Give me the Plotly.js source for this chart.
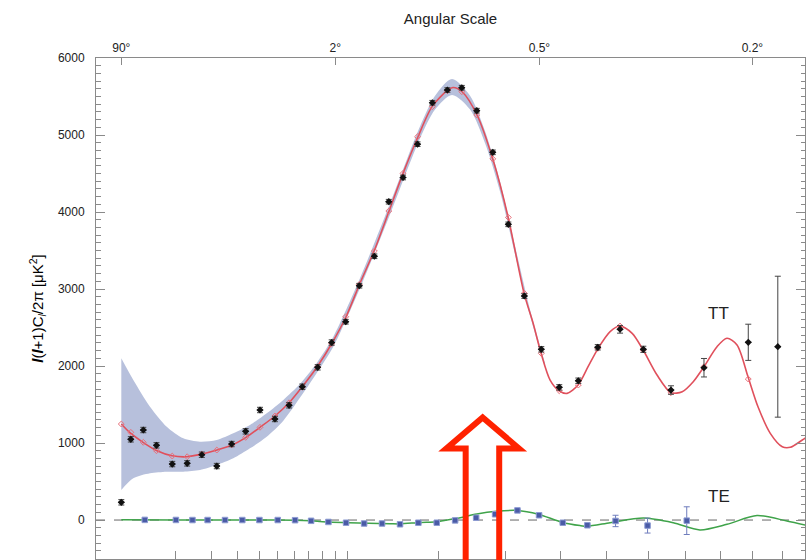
<!DOCTYPE html>
<html>
<head>
<meta charset="utf-8">
<script src="https://cdn.plot.ly/plotly-3.0.1.min.js"></script>
<style>html,body{margin:0;padding:0;background:#fff;}#chart{width:812px;height:560px;}</style>
</head>
<body>
<div id="chart"></div>
<script>
// ---- data (multipole l, values in microK^2) ----
const ttL   = [2, 2.9, 4.4, 6.4, 9.4, 12.9, 17.0, 21.9, 27.5, 33.5, 40.4, 48.4, 56.8, 65.4, 76.3, 87.1, 98.8, 111.0, 125.5, 140.4, 156.1, 173.1, 191.6, 211.5, 231.7, 253.9, 278.9, 304.6, 332.5, 363.6, 398.4, 437.4, 479.4, 530.5, 587.2, 659.0, 751.3, 886.7, 984.5];
const ttVal = [230, 1048, 1169, 970, 727, 736, 848, 701, 987, 1152, 1429, 1312, 1490, 1731, 1983, 2305, 2575, 3043, 3425, 4134, 4448, 4881, 5419, 5584, 5614, 5316, 4775, 3840, 2909, 2217, 1723, 1809, 2243, 2477, 2217, 1688, 1978, 2308, 2251];
const ttErr = [35, 35, 35, 35, 35, 35, 35, 35, 35, 35, 35, 35, 35, 35, 35, 35, 30, 30, 30, 30, 30, 30, 30, 30, 30, 30, 30, 30, 30, 35, 35, 35, 35, 50, 40, 55, 120, 235, 915];

const binL   = [2, 2.9, 4.4, 6.4, 9.4, 12.9, 17.0, 21.9, 27.5, 33.5, 40.4, 48.4, 56.8, 65.4, 76.3, 87.1, 98.8, 111.0, 125.5, 140.4, 156.1, 173.1, 191.6, 211.5, 231.7, 253.9, 278.9, 304.6, 332.5, 363.6, 398.4, 437.4, 479.4, 530.5, 587.2, 659.0, 751.3, 886.7];
const binVal = [1247, 1139, 1009, 900, 831, 822, 857, 909, 974, 1074, 1204, 1351, 1523, 1727, 1990, 2290, 2640, 3060, 3493, 4013, 4502, 4978, 5368, 5575, 5562, 5260, 4690, 3930, 2944, 2165, 1679, 1753, 2229, 2519, 2208, 1653, 1991, 1831];

const ttModelL   = [2, 2.81, 4.36, 6.49, 9.35, 12.86, 17.05, 21.97, 27.65, 33.67, 40.4, 48.4, 56.8, 65.2, 75.8, 87.4, 99.1, 111.7, 125.2, 140.7, 156.1, 173.7, 191.2, 211.1, 219.3, 232.1, 254.3, 279.4, 304.1, 332.0, 348.4, 363.2, 380.4, 398.0, 414.1, 436.9, 458.2, 480.3, 507.4, 530.5, 559.6, 586.8, 622.2, 659.0, 689.7, 720.5, 751.3, 789.8, 820.0, 851.1, 885.8, 918.2, 959.0, 999.8, 1027.7, 1070.4, 1107];
const ttModelVal = [1247, 1134, 1009, 900, 835, 822, 857, 909, 974, 1074, 1204, 1351, 1523, 1727, 1987, 2299, 2640, 3078, 3493, 4013, 4502, 4978, 5368, 5575, 5617, 5562, 5260, 4675, 3939, 2944, 2555, 2165, 1818, 1679, 1645, 1753, 1991, 2229, 2446, 2519, 2424, 2208, 1883, 1653, 1666, 1796, 1991, 2251, 2360, 2273, 1861, 1471, 1126, 952, 944, 1039, 1126];

const bandL     = [2, 3.17, 5.36, 8.27, 11.93, 16.45, 21.86, 28.17, 35.5, 43.9, 53.3, 63.9, 75.6, 88.4, 111.7, 141.7, 176.2, 195.1, 217.9, 243.8, 266.7, 290.7, 316.2, 342.9, 370.7];
const bandUpper = [2100, 1818, 1472, 1212, 1061, 1017, 1039, 1126, 1234, 1386, 1560, 1770, 2040, 2380, 3143, 4110, 5113, 5510, 5727, 5510, 5048, 4395, 3552, 2729, 2036];
const bandLower = [390, 541, 606, 627, 627, 649, 714, 801, 931, 1082, 1290, 1590, 1910, 2250, 3013, 3968, 4957, 5330, 5519, 5330, 4892, 4265, 3448, 2651, 1984];

const teL   = [4.6, 10.2, 14.3, 18.8, 24.9, 32.0, 40.1, 50.0, 60.6, 71.5, 84.5, 99.1, 115.5, 133.3, 152.7, 174.1, 197.3, 222.2, 252.9, 282.7, 320.3, 359.4, 405.4, 456.7, 520.0, 597.9, 702.2];
const teVal = [2, 1, 0, 0, 0, 0, 0, 0, -2, -10, -25, -35, -45, -45, -55, -35, -35, -5, 30, 75, 125, 62, -35, -68, -12, -72, -8];
const teErr = [10, 10, 10, 10, 10, 10, 10, 10, 10, 10, 10, 10, 10, 10, 10, 10, 10, 10, 10, 10, 12, 12, 12, 14, 74, 97, 180];

const teModelL   = [2, 10.2, 24.9, 40.4, 60.6, 71.5, 84.6, 101.3, 119.8, 141.7, 152.7, 176.2, 197.3, 224.5, 253.9, 285.0, 319.3, 358.1, 403.4, 441.0, 456.7, 507.4, 587.2, 665.3, 739.6, 820.0, 915.0, 1016, 1106];
const teModelVal = [3, 2, 0, 0, -3, -10, -25, -35, -42, -48, -50, -32, -22, 22, 78, 113, 125, 76, -28, -72, -80, -35, 26, -35, -128, -56, 58, -13, -87];

const bottomTickL = [10, 20, 30, 40, 50, 60, 70, 80, 90, 100, 200, 300, 400, 500, 600, 700, 800, 900, 1000];
const angleTickL  = [2, 90, 360, 900];
const angleTickText = ['90°', '2°', '0.5°', '0.2°'];
const xRangeL = [0.495, 1080];
const yRange = [-506, 6000];

// ---- x scale: power-law stretch of multipole l ----
const P = 0.403;
const T = l => Math.pow(l, P);
const tx = arr => arr.map(T);

const frame = '#8a8a8a';
const traces = [
  {x: tx(bandL), y: bandLower, mode: 'lines', line: {width: 0, shape: 'spline', smoothing: 0.8}, hoverinfo: 'skip'},
  {x: tx(bandL), y: bandUpper, mode: 'lines', line: {width: 0, shape: 'spline', smoothing: 0.8}, fill: 'tonexty', fillcolor: '#b7c0dc', hoverinfo: 'skip'},
  {x: tx(ttModelL), y: ttModelVal, mode: 'lines', line: {color: '#e0505c', width: 1.6, shape: 'spline', smoothing: 0.8}, name: 'TT model'},
  {x: tx(binL), y: binVal, mode: 'markers', marker: {symbol: 'diamond-open', size: 4.5, color: '#e8707a', line: {width: 1, color: '#e8707a'}}, name: 'TT binned model'},
  {x: tx(teModelL), y: teModelVal, mode: 'lines', line: {color: '#3fa34a', width: 1.5, shape: 'spline', smoothing: 0.8}, name: 'TE model'},
  {x: tx(teL), y: teVal, mode: 'markers', marker: {symbol: 'square', size: 5.5, color: '#4a5ba6', line: {width: 1, color: '#8d9bd2'}},
   error_y: {type: 'data', array: teErr, color: '#6f7dbd', thickness: 1, width: 3}, name: 'TE'},
  {x: tx(ttL), y: ttVal, mode: 'markers', marker: {symbol: 'diamond', size: 5.5, color: '#111'},
   error_y: {type: 'data', array: ttErr, color: '#444', thickness: 1, width: 3},
   error_x: {type: 'constant', value: 0.07, color: '#222', thickness: 1, width: 0}, name: 'TT'},
  {x: [], y: [], xaxis: 'x2', mode: 'markers', showlegend: false, hoverinfo: 'skip'}
];

// arrow outline (pixel positions -> paper)
const L = 96, R = 805, TOP = 58, BOT = 559;
const px = x => ((x - L) / (R - L)).toFixed(4);
const py = y => ((BOT - y) / (BOT - TOP)).toFixed(4);
const arrowPts = [[482.7, 417.5], [519, 448.5], [499.2, 448.5], [499.2, 575], [465.7, 575], [465.7, 448.5], [446.4, 448.5]];
const arrowPath = 'M' + arrowPts.map(p => px(p[0]) + ',' + py(p[1])).join(' L') + ' Z';

const layout = {
  width: 812, height: 560,
  margin: {l: 96, r: 7, t: 58, b: 1, pad: 0},
  paper_bgcolor: '#fff', plot_bgcolor: '#fff',
  showlegend: false,
  font: {family: 'Liberation Sans, Arial, sans-serif', color: '#333', size: 12},
  xaxis: {range: tx(xRangeL), showgrid: false, zeroline: false, showline: true, linecolor: frame, linewidth: 1,
          ticks: 'inside', tickcolor: frame, ticklen: 8, tickmode: 'array', tickvals: tx(bottomTickL), showticklabels: false},
  xaxis2: {overlaying: 'x', side: 'top', anchor: 'y', range: tx(xRangeL), showgrid: false, zeroline: false, showline: true,
           linecolor: frame, linewidth: 1, ticks: 'inside', tickcolor: frame, ticklen: 7,
           tickmode: 'array', tickvals: tx(angleTickL), ticktext: angleTickText,
           tickfont: {size: 12, color: '#222'},
           title: {text: 'Angular Scale', font: {size: 15, color: '#222'}, standoff: 12}},
  yaxis: {range: yRange, showgrid: false, zeroline: false, showline: true, mirror: 'ticks', linecolor: frame, linewidth: 1,
          ticks: 'inside', tickcolor: frame, ticklen: 9, tick0: 0, dtick: 1000,
          minor: {dtick: 100, ticks: 'inside', ticklen: 4.5, tickcolor: frame},
          tickfont: {size: 12, color: '#222'}, ticklabelstandoff: 8,
          title: {text: '<b><i>l</i></b>(<b><i>l</i></b>+1)C<sub><i>l</i></sub>/2π [μK<sup>2</sup>]', font: {size: 15, color: '#000'}, standoff: 10}},
  shapes: [
    {type: 'line', xref: 'paper', x0: 0, x1: 1, yref: 'y', y0: 0, y1: 0, layer: 'below', line: {color: '#666', width: 1, dash: 'dash'}},
    {type: 'path', xref: 'paper', yref: 'paper', path: arrowPath, line: {color: '#ff2200', width: 6}, fillcolor: 'rgba(0,0,0,0)', layer: 'above'}
  ],
  annotations: [
    {text: 'TT', xref: 'paper', yref: 'paper', x: px(718), y: py(313), xanchor: 'center', yanchor: 'middle', showarrow: false, font: {size: 17, color: '#222'}},
    {text: 'TE', xref: 'paper', yref: 'paper', x: px(719), y: py(497), xanchor: 'center', yanchor: 'middle', showarrow: false, font: {size: 17, color: '#222'}}
  ]
};

Plotly.newPlot('chart', traces, layout, {staticPlot: true, displayModeBar: false});
</script>
</body>
</html>
